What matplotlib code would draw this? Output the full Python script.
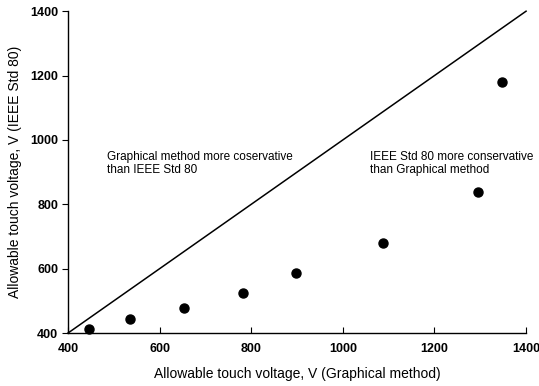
import matplotlib
matplotlib.use('Agg')
import matplotlib.pyplot as plt

plt.rcParams['font.family'] = ['Liberation Sans', 'DejaVu Sans']

# allowable touch voltages: graphical method vs IEEE Std 80
graphical_v = [446, 535, 653, 782, 898, 1088, 1295, 1348]
ieee_v = [412, 443, 478, 524, 586, 679, 837, 1181]

ticks = [400, 600, 800, 1000, 1200, 1400]

fig = plt.figure(figsize=(5.39, 3.86), dpi=100)
ax = fig.add_axes([0.126, 0.137, 0.850, 0.834])

# line of equality
ax.plot([400, 1400], [400, 1400], c='k', lw=1.1, clip_on=False)
ax.plot(graphical_v, ieee_v, 'o', c='k', ms=6.5, clip_on=False)

ax.set_xlim(400, 1400)
ax.set_ylim(400, 1400)
ax.set_xticks(ticks)
ax.set_yticks(ticks)
ax.set_xticklabels([str(t) for t in ticks], fontweight='bold')
ax.set_yticklabels([str(t) for t in ticks], fontweight='bold')

ax.spines['top'].set_visible(False)
ax.spines['right'].set_visible(False)
ax.spines['left'].set_linewidth(1.0)
ax.spines['bottom'].set_linewidth(1.0)
ax.tick_params(axis='x', direction='in', length=4, labelsize=9, pad=7)
ax.tick_params(axis='y', direction='out', length=4, labelsize=9, pad=3)

ax.text(485, 967, 'Graphical method more coservative\nthan IEEE Std 80',
        fontsize=8.5, va='top', ha='left', linespacing=1.2)
ax.text(1059, 967, 'IEEE Std 80 more conservative\nthan Graphical method',
        fontsize=8.5, va='top', ha='left', linespacing=1.2)

ax.set_xlabel('Allowable touch voltage, V (Graphical method)', fontsize=10, labelpad=9)
ax.set_ylabel('Allowable touch voltage, V (IEEE Std 80)', fontsize=10, labelpad=6)

fig.savefig('out.png', dpi=100)
